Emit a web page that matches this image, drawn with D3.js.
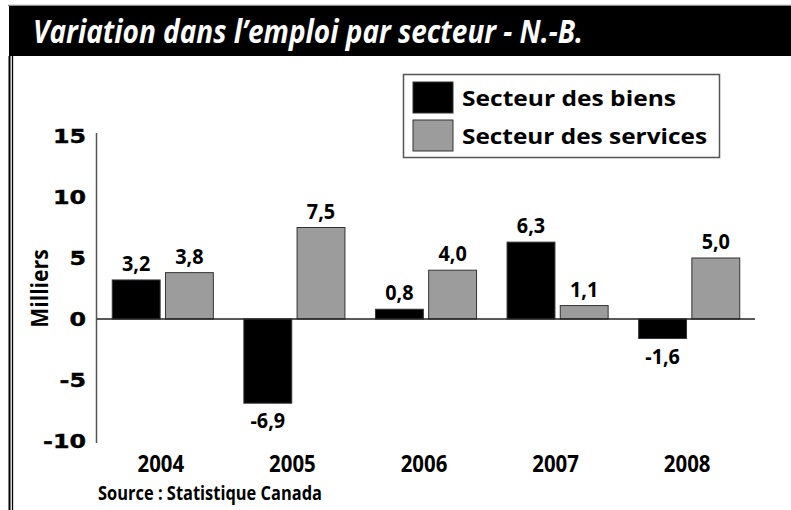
<!DOCTYPE html>
<html>
<head>
<meta charset="utf-8">
<script src="https://cdn.jsdelivr.net/npm/d3@7"></script>
<style>
  body { margin: 0; background: #fff; }
  svg { display: block; }
  .myr { font-family: "Open Sans", "Noto Sans", sans-serif; font-weight: 700; }
  .geo { font-family: "DejaVu Sans", sans-serif; font-weight: bold; }
</style>
</head>
<body>
<div id="chart"></div>
<script>
const years = ["2004", "2005", "2006", "2007", "2008"];
const biens = [3.2, -6.9, 0.8, 6.3, -1.6];
const services = [3.8, 7.5, 4.0, 1.1, 5.0];
const seriesNames = ["Secteur des biens", "Secteur des services"];
const seriesColors = ["#000000", "#9c9c9c"];
const yTicks = [-10, -5, 0, 5, 10, 15];

const width = 791, height = 510;
const fmt = v => v.toFixed(1).replace(".", ",");

// squeeze text horizontally by a factor (the original uses a condensed face)
function squeeze(sel, k) {
  sel.each(function() {
    const w = this.getComputedTextLength();
    d3.select(this).attr("textLength", w * k).attr("lengthAdjust", "spacingAndGlyphs");
  });
}

const svg = d3.select("#chart").append("svg")
  .attr("width", width)
  .attr("height", height);

// frame
svg.append("line")
  .attr("x1", 8).attr("x2", width).attr("y1", 5.5).attr("y2", 5.5)
  .attr("stroke", "#8a8a8a").attr("stroke-width", 1.5);
svg.append("rect")
  .attr("x", 9).attr("y", 6).attr("width", width - 9).attr("height", 50)
  .attr("fill", "#000");
svg.append("line")
  .attr("x1", 9.5).attr("x2", 9.5).attr("y1", 56).attr("y2", height)
  .attr("stroke", "#000").attr("stroke-width", 2);
svg.append("line")
  .attr("x1", 12.5).attr("x2", 12.5).attr("y1", 56).attr("y2", height)
  .attr("stroke", "#000").attr("stroke-width", 1.3);

svg.append("text")
  .attr("class", "myr")
  .attr("x", 33).attr("y", 43)
  .attr("fill", "#fff")
  .attr("font-size", 33)
  .attr("font-style", "italic")
  .attr("textLength", 550)
  .attr("lengthAdjust", "spacingAndGlyphs")
  .text("Variation dans l\u2019emploi par secteur - N.-B.");

// scales
const x0 = d3.scaleBand().domain(years).range([97, 755]).paddingInner(0.232).paddingOuter(0.116);
const x1 = d3.scaleBand().domain(seriesNames).range([0, x0.bandwidth()]).paddingInner(0.1);
const y = d3.scaleLinear().domain([-10, 15]).range([441, 136]);

// y axis
svg.append("line")
  .attr("x1", 96.5).attr("x2", 96.5).attr("y1", 133).attr("y2", 443)
  .attr("stroke", "#555").attr("stroke-width", 1.5);

svg.append("g").selectAll("text")
  .data(yTicks)
  .enter().append("text")
  .attr("class", "geo")
  .attr("x", 86)
  .attr("y", d => y(d) + 7)
  .attr("text-anchor", "end")
  .attr("font-size", 19)
  .attr("fill", "#000")
  .attr("stroke", "#000")
  .attr("stroke-width", 0.4)
  .text(d => d < 0 ? "-" + Math.abs(d) : d)
  .call(squeeze, 1.25);

svg.append("text")
  .attr("class", "myr")
  .attr("transform", `translate(48,${y(2.5)}) rotate(-90)`)
  .attr("text-anchor", "middle")
  .attr("font-size", 24)
  .attr("fill", "#000")
  .text("Milliers")
  .call(squeeze, 0.88);

// bars
const data = years.map((yr, i) => ({ year: yr, values: [biens[i], services[i]] }));

const groups = svg.append("g").selectAll("g")
  .data(data)
  .enter().append("g")
  .attr("transform", d => `translate(${x0(d.year)},0)`);

groups.selectAll("rect")
  .data(d => d.values.map((v, j) => ({ name: seriesNames[j], value: v, color: seriesColors[j] })))
  .enter().append("rect")
  .attr("x", d => x1(d.name))
  .attr("y", d => y(Math.max(0, d.value)))
  .attr("width", x1.bandwidth())
  .attr("height", d => Math.abs(y(d.value) - y(0)))
  .attr("fill", d => d.color)
  .attr("stroke", "#333")
  .attr("stroke-width", 1);

groups.selectAll("text")
  .data(d => d.values.map((v, j) => ({ name: seriesNames[j], value: v })))
  .enter().append("text")
  .attr("class", "myr")
  .attr("x", d => x1(d.name) + x1.bandwidth() / 2)
  .attr("y", d => d.value >= 0 ? y(d.value) - 9 : y(d.value) + 25)
  .attr("text-anchor", "middle")
  .attr("font-size", 22)
  .attr("fill", "#000")
  .text(d => fmt(d.value))
  .call(squeeze, 0.9);

// zero line
svg.append("line")
  .attr("x1", 97).attr("x2", 755).attr("y1", y(0)).attr("y2", y(0))
  .attr("stroke", "#222").attr("stroke-width", 1.3);

// x labels
svg.append("g").selectAll("text")
  .data(years)
  .enter().append("text")
  .attr("class", "myr")
  .attr("x", d => x0(d) + x0.bandwidth() / 2 - 2)
  .attr("y", 472)
  .attr("text-anchor", "middle")
  .attr("font-size", 24)
  .attr("fill", "#000")
  .text(d => d)
  .call(squeeze, 0.85);

svg.append("text")
  .attr("class", "myr")
  .attr("x", 98).attr("y", 500)
  .attr("font-size", 19)
  .attr("fill", "#000")
  .attr("textLength", 224)
  .attr("lengthAdjust", "spacingAndGlyphs")
  .text("Source : Statistique Canada");

// legend
const legend = svg.append("g");
legend.append("rect")
  .attr("x", 403.5).attr("y", 74.5).attr("width", 316).attr("height", 83)
  .attr("fill", "#fff").attr("stroke", "#555").attr("stroke-width", 1.5);

const legendWidths = [214, 245];
const items = legend.selectAll("g")
  .data(seriesNames)
  .enter().append("g")
  .attr("transform", (d, i) => `translate(413,${82 + i * 38})`);

items.append("rect")
  .attr("width", 40).attr("height", 31)
  .attr("fill", (d, i) => seriesColors[i])
  .attr("stroke", "#333").attr("stroke-width", 1);

items.append("text")
  .attr("class", "myr")
  .attr("x", 49).attr("y", 24)
  .attr("font-size", 22)
  .attr("fill", "#000")
  .attr("textLength", (d, i) => legendWidths[i])
  .attr("lengthAdjust", "spacingAndGlyphs")
  .text(d => d);
</script>
</body>
</html>
